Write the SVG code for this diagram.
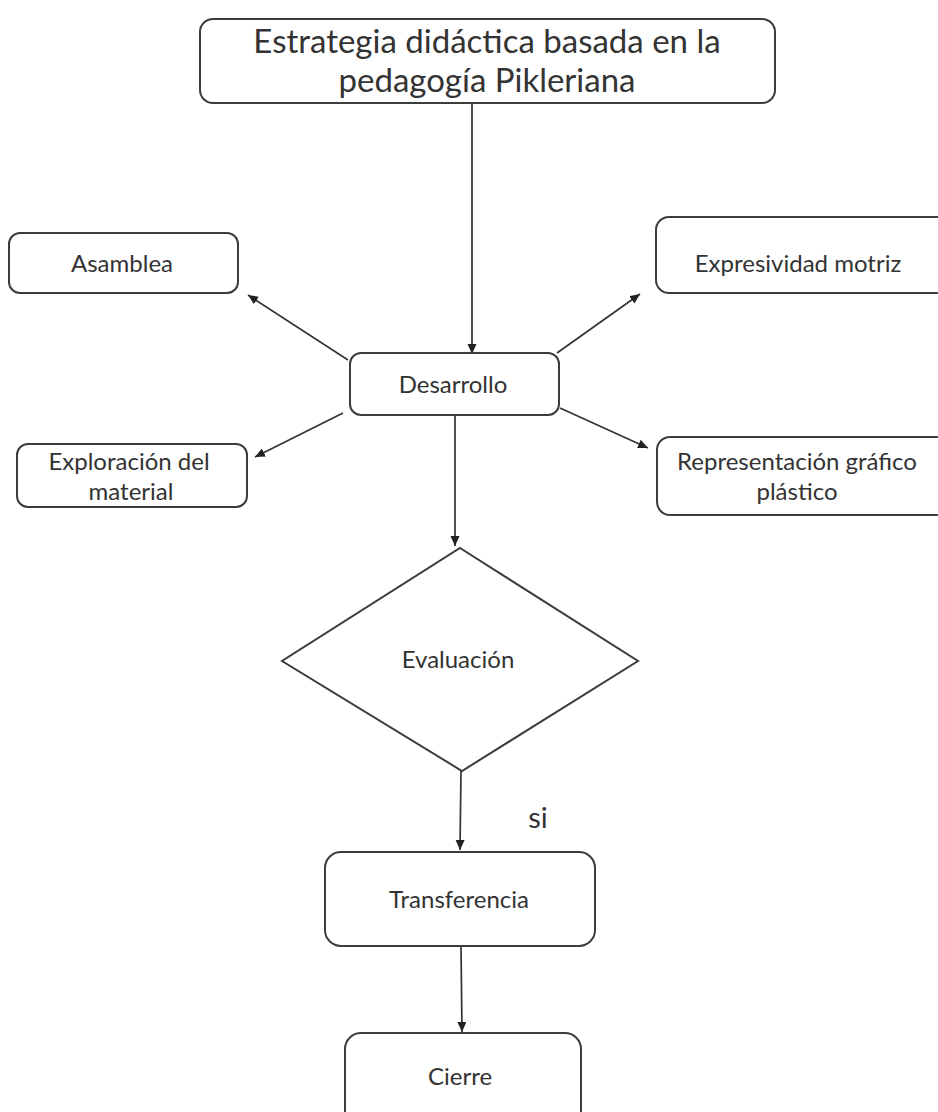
<svg xmlns="http://www.w3.org/2000/svg" width="938" height="1112" viewBox="0 0 938 1112">
<style>
.box{fill:#fff;stroke:#3c3c3c;stroke-width:2}
.t{font-family:Lato,"Liberation Sans",sans-serif;fill:#333;text-anchor:middle;font-size:24px}
.title{font-size:33px}
.con{stroke:#333;stroke-width:1.7;fill:none;marker-end:url(#ah)}
</style>
<defs>
<marker id="ah" markerWidth="12" markerHeight="12" refX="10" refY="4.5" orient="auto" markerUnits="userSpaceOnUse">
<path d="M0,0 L10,4.5 L0,9 Z" fill="#222"/>
</marker>
</defs>
<rect width="938" height="1112" fill="#fff"/>
<g id="connectors">
<line class="con" x1="472" y1="103" x2="472" y2="354"/>
<line class="con" x1="348" y1="360" x2="248" y2="295"/>
<line class="con" x1="343" y1="413" x2="255" y2="457"/>
<line class="con" x1="557" y1="353" x2="640" y2="294"/>
<line class="con" x1="560" y1="408" x2="648" y2="448"/>
<line class="con" x1="455" y1="415" x2="455" y2="546"/>
<line class="con" x1="461" y1="771" x2="460" y2="850"/>
<line class="con" x1="461" y1="946" x2="462" y2="1032"/>
</g>
<g id="n-title">
<rect class="box" x="200" y="19" width="575" height="84" rx="13"/>
<text class="t title" x="487" y="53">Estrategia didáctica basada en la</text>
<text class="t title" x="487" y="92">pedagogía Pikleriana</text>
</g>
<g id="n-desarrollo">
<rect class="box" x="350" y="353" width="209" height="62" rx="11"/>
<text class="t" x="453" y="393">Desarrollo</text>
</g>
<g id="n-asamblea">
<rect class="box" x="9" y="233" width="229" height="60" rx="11"/>
<text class="t" x="122" y="272">Asamblea</text>
</g>
<g id="n-exploracion">
<rect class="box" x="17" y="444" width="230" height="63" rx="11"/>
<text class="t" x="129" y="470">Exploración del</text>
<text class="t" x="131" y="500">material</text>
</g>
<g id="n-expresividad">
<rect class="box" x="656" y="217" width="300" height="76" rx="13"/>
<text class="t" x="798" y="272">Expresividad motriz</text>
</g>
<g id="n-representacion">
<rect class="box" x="657" y="437" width="300" height="78" rx="13"/>
<text class="t" x="797" y="470">Representación gráfico</text>
<text class="t" x="797" y="500">plástico</text>
</g>
<g id="n-evaluacion">
<polygon class="box" points="460,548 638,661 462,771 282,661"/>
<text class="t" x="458" y="668">Evaluación</text>
</g>
<text class="t" x="538" y="828" style="font-size:29px">si</text>
<g id="n-transferencia">
<rect class="box" x="325" y="852" width="270" height="94" rx="16"/>
<text class="t" x="459" y="908">Transferencia</text>
</g>
<g id="n-cierre">
<rect class="box" x="345" y="1033" width="236" height="100" rx="16"/>
<text class="t" x="460" y="1085">Cierre</text>
</g>
</svg>
